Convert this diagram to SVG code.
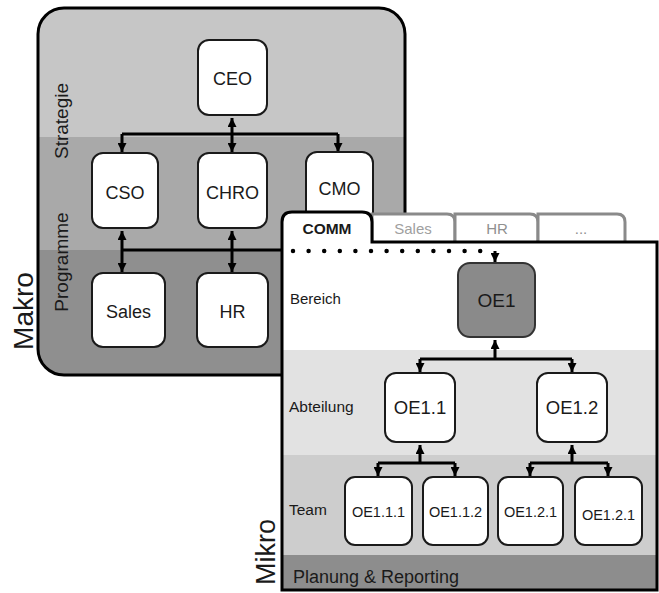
<svg xmlns="http://www.w3.org/2000/svg" width="659" height="593" viewBox="0 0 659 593">
<defs>
<style>
.box{fill:#fff;stroke:#1a1a1a;stroke-width:2}
.lbl{font-family:"Liberation Sans",Arial,sans-serif;fill:#1a1a1a;text-anchor:middle}
.side{font-family:"Liberation Sans",Arial,sans-serif;fill:#1a1a1a}
.con{fill:none;stroke:#000;stroke-width:3}
.tab{fill:#fff;stroke:#8a8a8a;stroke-width:3}
</style>
<marker id="ah" viewBox="0 0 10 10" refX="10" refY="5" markerWidth="9" markerHeight="9" markerUnits="userSpaceOnUse" orient="auto">
<path d="M0,0 L10,5 L0,10 Z" fill="#000"/>
</marker>
<clipPath id="makroClip"><rect x="38" y="8" width="367" height="367" rx="26"/></clipPath>
</defs>

<g id="makro-panel">
<g clip-path="url(#makroClip)">
<rect x="38" y="8" width="367" height="129" fill="#c6c6c6"/>
<rect x="38" y="137" width="367" height="113" fill="#a9a9a9"/>
<rect x="38" y="250" width="367" height="125" fill="#8f8f8f"/>
</g>
<rect x="38" y="8" width="367" height="367" rx="26" fill="none" stroke="#000" stroke-width="3"/>
<text class="side" font-size="19" text-anchor="middle" transform="translate(68,121) rotate(-90)">Strategie</text>
<text class="side" font-size="19" text-anchor="middle" transform="translate(68,262) rotate(-90)">Programme</text>
</g>
<text id="makro-label" class="side" font-size="28" text-anchor="middle" transform="translate(33,311) rotate(-90)">Makro</text>

<g id="makro-connectors">
<path class="con" d="M122,134 H338"/>
<path class="con" d="M232,134 V118" marker-end="url(#ah)"/>
<path class="con" d="M232,134 V152" marker-end="url(#ah)"/>
<path class="con" d="M122,134 V152" marker-end="url(#ah)"/>
<path class="con" d="M338,134 V152" marker-end="url(#ah)"/>
<path class="con" d="M122,250 H290"/>
<path class="con" d="M122,250 V231" marker-end="url(#ah)"/>
<path class="con" d="M122,250 V272" marker-end="url(#ah)"/>
<path class="con" d="M232,250 V231" marker-end="url(#ah)"/>
<path class="con" d="M232,250 V272" marker-end="url(#ah)"/>
</g>

<g id="ceo"><rect class="box" x="198" y="40" width="69" height="75" rx="11"/><text class="lbl" x="232.5" y="85" font-size="18">CEO</text></g>
<g id="cso"><rect class="box" x="92" y="153" width="66" height="75" rx="11"/><text class="lbl" x="125" y="199" font-size="18">CSO</text></g>
<g id="chro"><rect class="box" x="198" y="153" width="69" height="75" rx="11"/><text class="lbl" x="232.5" y="199" font-size="18">CHRO</text></g>
<g id="cmo"><rect class="box" x="306" y="152" width="67" height="75" rx="11"/><text class="lbl" x="339.5" y="195" font-size="18">CMO</text></g>
<g id="sales"><rect class="box" x="92" y="273" width="73" height="74" rx="11"/><text class="lbl" x="128.5" y="318" font-size="18">Sales</text></g>
<g id="hr"><rect class="box" x="197" y="273" width="71" height="74" rx="11"/><text class="lbl" x="232.5" y="318" font-size="18">HR</text></g>

<g id="mikro-panel">
<g id="tabs">
<path class="tab" d="M372,242 V214 H447 Q455,214 455,222 V242"/>
<path class="tab" d="M455,242 V214 H530 Q538,214 538,222 V242"/>
<path class="tab" d="M538,242 V214 H617 Q625,214 625,222 V242"/>
<text class="lbl" x="413" y="234" font-size="15" fill="#a0a0a0" style="fill:#a0a0a0">Sales</text>
<text class="lbl" x="497" y="234" font-size="15" style="fill:#909090">HR</text>
<text class="lbl" x="581" y="234" font-size="15" style="fill:#909090">...</text>
</g>
<path d="M282,590 V222 Q282,212 292,212 H362 Q372,212 372,222 V242 H657 V590 Z" fill="#fff"/>
<rect x="283" y="350" width="373" height="105" fill="#e2e2e2"/>
<rect x="283" y="455" width="373" height="100" fill="#cdcdcd"/>
<rect x="283" y="555" width="373" height="35" fill="#8d8d8d"/>
<path d="M282,590 V222 Q282,212 292,212 H362 Q372,212 372,222 V242 H657 V590 Z" fill="none" stroke="#000" stroke-width="3"/>
<text class="lbl" x="327" y="234" font-size="15.5" font-weight="bold">COMM</text>
<text class="side" x="290" y="304" font-size="15">Bereich</text>
<text class="side" x="289" y="412" font-size="15.5">Abteilung</text>
<text class="side" x="289" y="515" font-size="15.5">Team</text>
<text class="side" x="293" y="583" font-size="18">Planung &amp; Reporting</text>
</g>
<text id="mikro-label" class="side" font-size="27" text-anchor="middle" transform="translate(275,552) rotate(-90)">Mikro</text>

<g id="mikro-connectors">
<path d="M293,251 H482" fill="none" stroke="#000" stroke-width="4.5" stroke-linecap="round" stroke-dasharray="0 15.6"/>
<path class="con" d="M495,251 V262" marker-end="url(#ah)"/>
<path class="con" d="M420,359 H572"/>
<path class="con" d="M495,359 V340" marker-end="url(#ah)"/>
<path class="con" d="M420,359 V372" marker-end="url(#ah)"/>
<path class="con" d="M572,359 V372" marker-end="url(#ah)"/>
<path class="con" d="M378,463 H455"/>
<path class="con" d="M420,463 V445" marker-end="url(#ah)"/>
<path class="con" d="M378,463 V476" marker-end="url(#ah)"/>
<path class="con" d="M455,463 V476" marker-end="url(#ah)"/>
<path class="con" d="M530,463 H608"/>
<path class="con" d="M572,463 V445" marker-end="url(#ah)"/>
<path class="con" d="M530,463 V476" marker-end="url(#ah)"/>
<path class="con" d="M608,463 V476" marker-end="url(#ah)"/>
</g>

<g id="oe1"><rect x="458" y="263" width="77" height="74" rx="12" fill="#8a8a8a" stroke="#333" stroke-width="2"/><text class="lbl" x="496.5" y="307" font-size="19">OE1</text></g>
<g id="oe1-1"><rect class="box" x="385" y="373" width="70" height="69" rx="11"/><text class="lbl" x="420" y="414" font-size="18.5">OE1.1</text></g>
<g id="oe1-2"><rect class="box" x="537" y="373" width="70" height="69" rx="11"/><text class="lbl" x="572" y="414" font-size="18.5">OE1.2</text></g>
<g id="oe1-1-1"><rect class="box" x="345" y="477" width="67" height="68" rx="10"/><text class="lbl" x="378.5" y="517" font-size="14.5">OE1.1.1</text></g>
<g id="oe1-1-2"><rect class="box" x="423" y="477" width="65" height="68" rx="10"/><text class="lbl" x="455.5" y="517" font-size="14.5">OE1.1.2</text></g>
<g id="oe1-2-1"><rect class="box" x="498" y="477" width="65" height="68" rx="10"/><text class="lbl" x="530.5" y="517" font-size="14.5">OE1.2.1</text></g>
<g id="oe1-2-1b"><rect class="box" x="575" y="477" width="67" height="68" rx="10"/><text class="lbl" x="608.5" y="520" font-size="14.5">OE1.2.1</text></g>
</svg>
